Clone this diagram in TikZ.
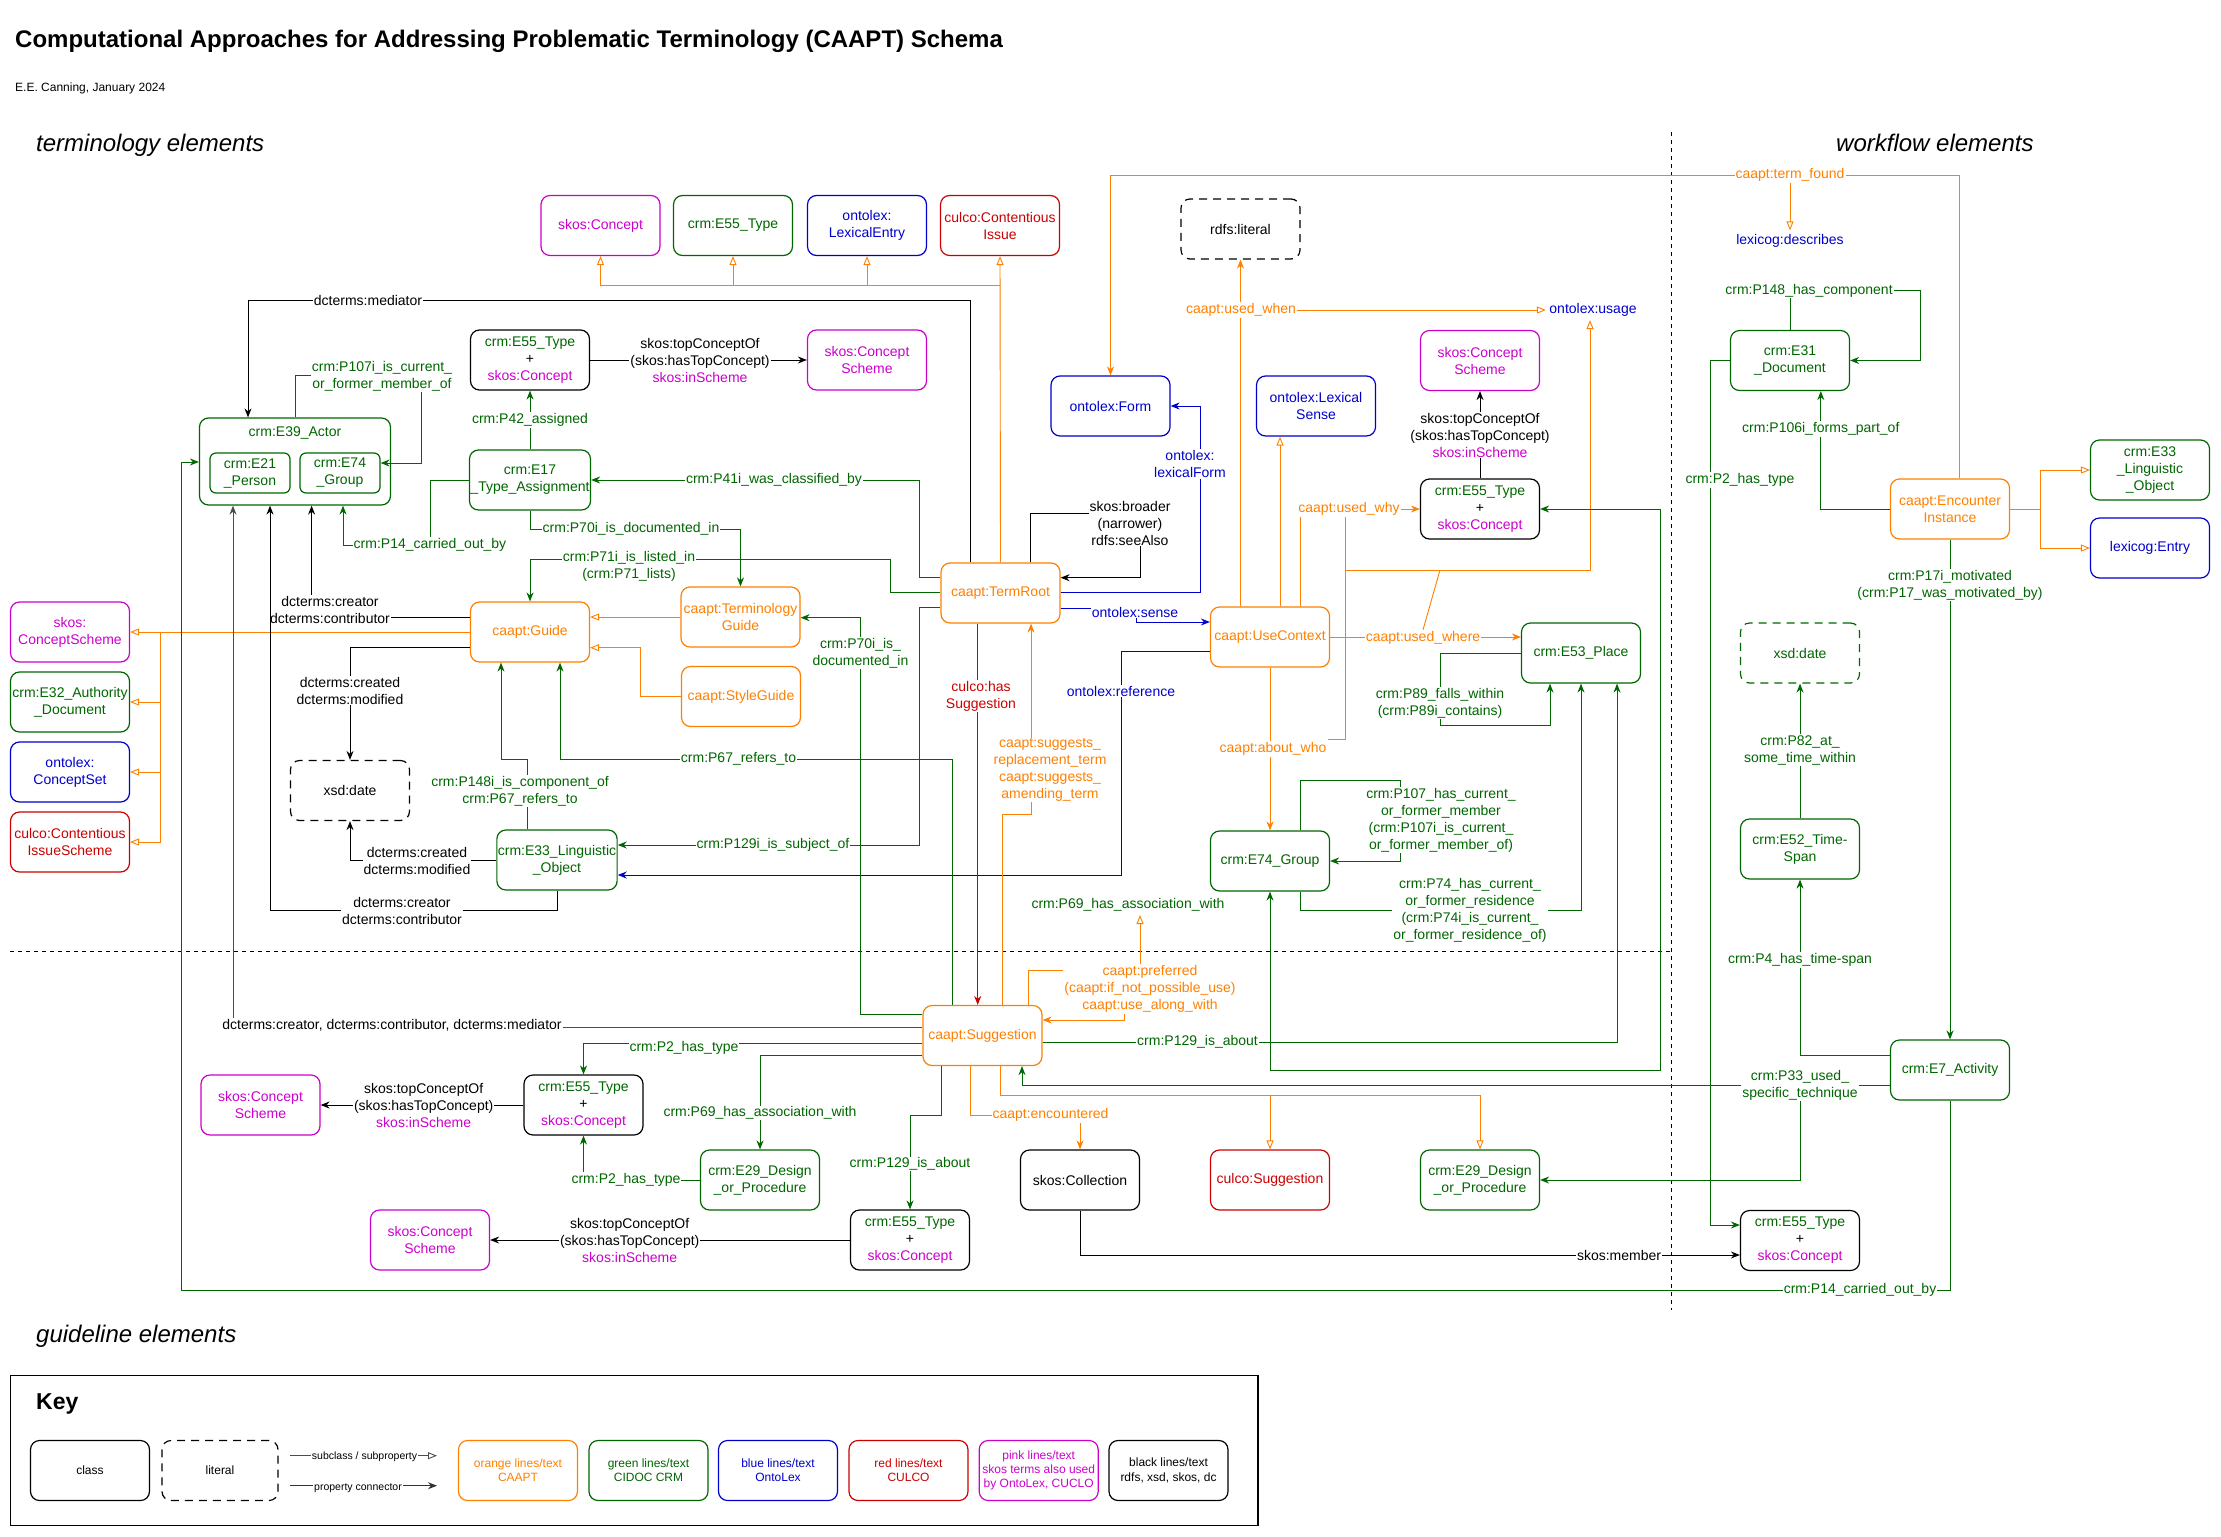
\documentclass[tikz,border=0pt]{standalone}
\usepackage{fontspec}
\setmainfont{Liberation Sans}
\usetikzlibrary{arrows.meta}
\definecolor{caorange}{HTML}{FF8000}
\definecolor{crmgreen}{HTML}{006600}
\definecolor{olblue}{HTML}{0000CC}
\definecolor{cured}{HTML}{CC0000}
\definecolor{skpink}{HTML}{CC00CC}
\tikzset{
  cls/.style={draw,rounded corners=9pt,line width=1.2pt,minimum width=119pt,minimum height=60pt,inner sep=1pt,align=center,fill=white},
  obox/.style={cls,draw=caorange,text=caorange},
  gbox/.style={cls,draw=crmgreen,text=crmgreen},
  bbox/.style={cls,draw=olblue,text=olblue},
  rbox/.style={cls,draw=cured,text=cured},
  pbox/.style={cls,draw=skpink,text=skpink},
  kbox/.style={cls,draw=black,text=black},
  litbox/.style={dash pattern=on 8pt off 6pt},
  prop/.style={line width=1pt,-{Stealth[length=9pt,width=7pt]}},
  gprop/.style={prop,draw=crmgreen},
  oprop/.style={prop,draw=caorange},
  bprop/.style={prop,draw=olblue},
  rprop/.style={prop,draw=cured},
  kprop/.style={prop,draw=black},
  gboth/.style={gprop,{Stealth[length=9pt,width=7pt]}-{Stealth[length=9pt,width=7pt]}},
  subarrow/.style={line width=0.9pt,-{Triangle[open,length=9pt,width=7pt]}},
  osub/.style={subarrow,draw=caorange},
  oline/.style={line width=0.9pt,draw=caorange},
  lbl/.style={fill=white,inner sep=1pt,align=center},
  glbl/.style={lbl,text=crmgreen},
  olbl/.style={lbl,text=caorange},
  blbl/.style={lbl,text=olblue},
  rlbl/.style={lbl,text=cured},
  klbl/.style={lbl,text=black},
  divider/.style={line width=1pt,dash pattern=on 4pt off 4pt},
  keyfont/.style={font=\fontsize{12}{14.3}\selectfont}
}
\newcommand*\typeconcept[2]{\node[kbox] (#1) at (#2) {\textcolor{crmgreen}{crm:E55\_Type}\\+\\\textcolor{skpink}{skos:Concept}};}
\newcommand*\topconcept[2]{\node[klbl] (#1) at (#2) {skos:topConceptOf\\(skos:hasTopConcept)\\\textcolor{skpink}{skos:inScheme}};}

\begin{document}
\begin{tikzpicture}[x=1pt,y=-1pt,font=\fontsize{14}{17}\selectfont]
\useasboundingbox (0,0) rectangle (2221,1536);

% headings
\node[anchor=base west,inner sep=0pt,font=\fontsize{24}{28}\selectfont\bfseries] (title) at (15,48) {Computational Approaches for Addressing Problematic Terminology (CAAPT) Schema};
\node[anchor=west,inner sep=0pt,font=\fontsize{12}{14}\selectfont] (author) at (15,88) {E.E. Canning, January 2024};
\node[anchor=west,inner sep=0pt,font=\fontsize{24}{28}\selectfont\itshape] (termhead) at (36,145) {terminology elements};
\node[anchor=west,inner sep=0pt,font=\fontsize{24}{28}\selectfont\itshape] (workhead) at (1836,143) {workflow elements};
\node[anchor=west,inner sep=0pt,font=\fontsize{24}{28}\selectfont\itshape] (guidehead) at (36,1336) {guideline elements};

\draw[divider] (1671,132) -- (1671,1310);
\draw[divider] (10,951) -- (1671,951);

% terminology classes
\node[pbox] (skosconcept) at (600.5,225.5) {skos:Concept};
\node[gbox] (e55super) at (733,225.5) {crm:E55\_Type};
\node[bbox] (lexentry) at (867,225.5) {ontolex:\\LexicalEntry};
\node[rbox] (contissue) at (1000,225.5) {culco:Contentious\\Issue};

\typeconcept{e55assign}{530,360}
\node[pbox] (schemeA) at (867,360) {skos:Concept\\Scheme};
\node[gbox] (e17) at (530,480) {crm:E17\\\_Type\_Assignment};

\node[gbox,minimum width=191pt,minimum height=87pt] (actor) at (295,461.5) {};
\node[text=crmgreen] (actorname) at (295,433) {crm:E39\_Actor};
\node[gbox,minimum width=80pt,minimum height=40pt,rounded corners=6pt] (person) at (250,473) {crm:E21\\\_Person};
\node[gbox,minimum width=80pt,minimum height=40pt,rounded corners=6pt] (actgroup) at (340,473) {crm:E74\\\_Group};

\node[obox] (guide) at (530,632) {caapt:Guide};
\node[obox] (termguide) at (740.5,617) {caapt:Terminology\\Guide};
\node[obox] (styleguide) at (741,696.5) {caapt:StyleGuide};
\node[obox] (termroot) at (1000.5,593) {caapt:TermRoot};
\node[bbox] (form) at (1110.5,406) {ontolex:Form};
\node[kbox,litbox] (literal) at (1240.5,229) {rdfs:literal};
\node[bbox] (lexsense) at (1316,406) {ontolex:Lexical\\Sense};
\node[pbox] (schemeB) at (1480,360.5) {skos:Concept\\Scheme};
\typeconcept{e55why}{1480,509}
\node[obox] (usecontext) at (1270,637) {caapt:UseContext};
\node[gbox] (place) at (1581,653) {crm:E53\_Place};
\node[gbox] (groupwho) at (1270,861) {crm:E74\_Group};
\node[gbox] (lingobj) at (557,860) {crm:E33\_Linguistic\\\_Object};
\node[kbox,litbox] (dateguide) at (350,790.5) {xsd:date};
\node[text=olblue] (describes) at (1790,240.5) {lexicog:describes};
\node[text=olblue] (usage) at (1593,310) {ontolex:usage};

\foreach \n/\y/\s/\t in {cscheme/632/pbox/{skos:\\ConceptScheme}, authdoc/702/gbox/{crm:E32\_Authority\\\_Document}, conceptset/772/bbox/{ontolex:\\ConceptSet}, issuescheme/842/rbox/{culco:Contentious\\IssueScheme}}
  \node[\s] (\n) at (70,\y) {\t};

% guideline classes
\node[obox] (suggestion) at (982.5,1035.5) {caapt:Suggestion};
\typeconcept{e55sugg}{583.5,1105}
\node[pbox] (schemeC) at (260.5,1105) {skos:Concept\\Scheme};
\node[gbox] (designsugg) at (760,1180) {crm:E29\_Design\\\_or\_Procedure};
\typeconcept{e55about}{910,1240}
\node[pbox] (schemeD) at (430,1240) {skos:Concept\\Scheme};
\node[kbox] (collection) at (1080,1180) {skos:Collection};
\node[rbox] (culcosugg) at (1270,1180) {culco:Suggestion};
\node[gbox] (design) at (1480,1180) {crm:E29\_Design\\\_or\_Procedure};
\typeconcept{e55member}{1800,1240.5}

% workflow classes
\node[gbox] (document) at (1790,360.5) {crm:E31\\\_Document};
\node[obox] (encounter) at (1950,509) {caapt:Encounter\\Instance};
\node[gbox] (lingobjR) at (2150,470) {crm:E33\\\_Linguistic\\\_Object};
\node[bbox] (entry) at (2150,548) {lexicog:Entry};
\node[gbox,litbox] (datetime) at (1800,653) {xsd:date};
\node[gbox] (timespan) at (1800,849) {crm:E52\_Time-\\Span};
\node[gbox] (activity) at (1950,1070) {crm:E7\_Activity};

% TermRoot
\draw[osub] (termroot.north) -- (contissue.south);
\coordinate (topbus) at (1000,285);
\foreach \n in {skosconcept,e55super,lexentry} \draw[osub] (topbus) -| (\n.south);

\draw[kprop] (970,0 |- termroot.north) |- (248,300) -- (248,0 |- actor.north);
\node[klbl] (l-mediator) at (368,300) {dcterms:mediator};

\draw[kprop] (e55assign) -- (schemeA);
\topconcept{l-scheme1}{700,360}

\draw[gprop] (e17) -- (e55assign);
\node[glbl] (l-p42) at (530,420) {crm:P42\_assigned};

\draw[gprop] (termroot.west |- 0,577.7) -| (919,480) -- (e17.east);
\node[glbl] (l-p41) at (774,480) {crm:P41i\_was\_classified\_by};

\draw[gprop] (e17.south) |- (740.5,529) -- (termguide.north);
\node[glbl] (l-p70) at (631,529) {crm:P70i\_is\_documented\_in};

\draw[gprop] (termroot.west |- 0,592.7) -| (890,559) -| (guide.north);
\node[glbl] (l-p71) at (629,566) {crm:P71i\_is\_listed\_in\\(crm:P71\_lists)};

\draw[gprop] (termroot.west |- 0,607.7) -| (919,845) -- (lingobj.east |- 0,845);
\node[glbl] (l-p129i) at (773,845) {crm:P129i\_is\_subject\_of};

\draw[bprop] (usecontext.west |- 0,651) -| (1121,875) -- (lingobj.east |- 0,875);
\node[blbl] (l-reference) at (1121,691) {ontolex:reference};

\draw[bprop] (termroot.east |- 0,608) -- (1136,608) |- (usecontext.west |- 0,622);
\node[blbl] (l-sense) at (1135,612) {ontolex:sense};

\draw[bprop] (termroot.east |- 0,592.7) -| (1200,406) -- (form.east);
\node[blbl] (l-lexform) at (1190,464) {ontolex:\\lexicalForm};

\draw[kprop] (termroot.north -| 1030.6,0) |- (1140,513) -- (1140,577.7) -- (termroot.east |- 0,577.7);
\node[klbl] (l-broader) at (1130,523) {skos:broader\\(narrower)\\rdfs:seeAlso};

\draw[oprop] (encounter.north -| 1959,0) |- (form.north |- 0,175) -- (form.north);
\node[olbl] (l-termfound) at (1790,175) {caapt:term\_found};
\draw[osub] (l-termfound.south) -- (describes.north);

% UseContext
\draw[oprop] (literal.south |- usecontext.north) -- (literal.south);
\node[olbl] (l-usedwhen) at (1241,310) {caapt:used\_when};
\draw[osub] (l-usedwhen.east) -- (usage.west);

\draw[osub] (usecontext.north -| 1280,0) -- (lexsense.south -| 1280,0);

\draw[oprop] (usecontext.north -| 1300,0) |- (e55why.west);
\node[olbl] (l-usedwhy) at (1349,509) {caapt:used\_why};

\draw[kprop] (e55why) -- (schemeB);
\topconcept{l-scheme2}{1480,435}

\draw[oprop] (usecontext) -- (groupwho);
\node[olbl] (l-aboutwho) at (1273,749) {caapt:about\_who};

\draw[oprop] (usecontext.east) -- (place.west |- usecontext.east);
\node[olbl] (l-usedwhere) at (1423,637.5) {caapt:used\_where};

\draw[oline] (l-usedwhy.south -| 1345,0) -- (1345,739) -- (l-aboutwho.east |- 0,739);
\draw[osub] (1345,570) -| (usage.south -| 1590,0);
\draw[oline] (1440,570) -- (l-usedwhere.north);

\draw[gprop] (place.west) -| (1440,725) -| (place.south -| 1550,0);
\node[glbl] (l-p89) at (1440,703) {crm:P89\_falls\_within\\(crm:P89i\_contains)};

\draw[gprop] (groupwho.north -| 1300,0) |- (1400,780) |- (groupwho.east);
\node[glbl] (l-p107) at (1441,820) {crm:P107\_has\_current\_\\or\_former\_member\\(crm:P107i\_is\_current\_\\or\_former\_member\_of)};

\draw[gprop] (groupwho.south -| 1300,0) |- (1581,910) -- (place.south);
\node[glbl] (l-p74) at (1470,910) {crm:P74\_has\_current\_\\or\_former\_residence\\(crm:P74i\_is\_current\_\\or\_former\_residence\_of)};

% Guide
\draw[osub] (termguide.west) -- (guide.east |- termguide.west);
\draw[osub] (styleguide.west) -| (640.6,647.7) -- (guide.east |- 0,647.7);
\draw[oline] (guide.west) -- (160.7,632);
\foreach \n in {cscheme,authdoc,conceptset,issuescheme} \draw[osub] (160.7,632) |- (\n.east);

\draw[kprop] (guide.west |- 0,617) -| (actor.south -| 311.6,0);
\node[klbl] (l-dcguide) at (330,609.5) {dcterms:creator\\dcterms:contributor};

\draw[kprop] (guide.west |- 0,647) -| (dateguide.north);
\node[klbl] (l-dcdate) at (350,690.5) {dcterms:created\\dcterms:modified};

\draw[kprop] (lingobj.west) -| (dateguide.south);
\node[klbl] (l-dcdate2) at (417,860.7) {dcterms:created\\dcterms:modified};

\draw[kprop] (lingobj.south) |- (270,910) -- (actor.south -| 270,0);
\node[klbl] (l-dcling) at (402,910.7) {dcterms:creator\\dcterms:contributor};

\draw[gprop] (lingobj.north -| 527.7,0) |- (501,759) -- (guide.south -| 501,0);
\node[glbl] (l-p148i) at (520,791) {crm:P148i\_is\_component\_of\\crm:P67\_refers\_to};

\draw[gprop] (actor.north -| 295,0) |- (421,375) |- (actgroup.east |- 0,463);
\node[glbl] (l-p107i) at (382,376) {crm:P107i\_is\_current\_\\or\_former\_member\_of};

\draw[gprop] (e17.west) -| (430,545) -| (actor.south -| 343,0);
\node[glbl] (l-p14) at (430,545) {crm:P14\_carried\_out\_by};

% Suggestion
\draw[rprop] (termroot.south -| 977.7,0) -- (suggestion.north -| 977.7,0);
\node[rlbl] (l-hassugg) at (981,696) {culco:has\\Suggestion};

\draw[oprop] (suggestion.north -| 1002.6,0) |- (1031,814) -- (termroot.south -| 1031,0);
\node[olbl] (l-suggests) at (1050,770) {caapt:suggests\_\\replacement\_term\\caapt:suggests\_\\amending\_term};

\draw[oprop] (suggestion.north -| 1028.6,0) |- (1124.5,970.7) -- (1124.5,1020) -- (suggestion.east |- 0,1020);
\node[olbl] (l-preferred) at (1150,989) {caapt:preferred\\(caapt:if\_not\_possible\_use)\\caapt:use\_along\_with};
\node[text=crmgreen] (l-p69assoc) at (1128,905) {crm:P69\_has\_association\_with};
\draw[osub] (l-preferred.north -| 1140,0) -- (l-p69assoc.south -| 1140,0);

\draw[gprop] (suggestion.north -| 952,0) |- (560,759) -- (guide.south -| 560,0);
\node[glbl] (l-p67) at (738.5,759) {crm:P67\_refers\_to};

\draw[gprop] (suggestion.west |- 0,1014) -| (860.5,617.7) -- (termguide.east |- 0,617.7);
\node[glbl] (l-p70b) at (860.5,653) {crm:P70i\_is\_\\documented\_in};

\draw[kprop,draw=black!70] (suggestion.west |- 0,1027.7) -| (actor.south -| 233,0);
\node[klbl] (l-dcsugg) at (392,1025) {dcterms:creator, dcterms:contributor, dcterms:mediator};

\draw[gprop] (suggestion.west |- 0,1043.7) -| (e55sugg.north);
\node[glbl] (l-p2a) at (684,1048) {crm:P2\_has\_type};

\draw[gprop] (suggestion.west |- 0,1055) -| (designsugg.north);
\node[glbl] (l-p69) at (760,1113) {crm:P69\_has\_association\_with};

\draw[gprop] (designsugg.west) -| (e55sugg.south);
\node[glbl] (l-p2b) at (626,1180) {crm:P2\_has\_type};

\draw[kprop] (e55sugg.west) -- (schemeC.east);
\topconcept{l-scheme3}{423.7,1105}
\draw[kprop] (e55about.west) -- (schemeD.east);
\topconcept{l-scheme4}{629.7,1240}

\draw[gprop] (suggestion.south -| 941,0) |- (910,1115) -- (e55about.north);
\node[glbl] (l-p129b) at (910,1164) {crm:P129\_is\_about};

\draw[oprop] (suggestion.south -| 970,0) |- (1080,1115) -- (collection.north);
\node[olbl] (l-encountered) at (1050.5,1115) {caapt:encountered};

\coordinate (suggbus) at (1270,1095);
\draw[osub] (suggestion.south -| 1000.5,0) |- (1480,1095) -- (design.north);
\draw[osub] (suggbus) -- (culcosugg.north);

\draw[kprop] (collection.south) |- (e55member.west |- 0,1255);
\node[klbl] (l-member) at (1619,1255) {skos:member};

\draw[gprop] (suggestion.east |- 0,1042) -| (place.south -| 1617,0);
\node[glbl] (l-p129c) at (1197.5,1042) {crm:P129\_is\_about};

\draw[gboth] (groupwho.south) |- (1660,1070) |- (e55why.east);

% workflow
\draw[gprop] (activity.west |- 0,1085) -| (suggestion.south -| 1022,0);
\node[glbl] (l-p33) at (1800,1085) {crm:P33\_used\_\\specific\_technique};
\draw[gprop] (l-p33.south) |- (design.east);

\draw[gprop] (activity.south) |- (181,1290) |- (actor.west |- 0,462);
\node[glbl] (l-p14b) at (1860,1290) {crm:P14\_carried\_out\_by};

\draw[gprop] (activity.west |- 0,1055) -| (timespan.south);
\node[glbl] (l-p4) at (1800,960) {crm:P4\_has\_time-span};

\draw[gprop] (timespan) -- (datetime);
\node[glbl] (l-p82) at (1800,750) {crm:P82\_at\_\\some\_time\_within};

\draw[gprop] (encounter) -- (activity);
\node[glbl] (l-p17) at (1950,585) {crm:P17i\_motivated\\(crm:P17\_was\_motivated\_by)};

\draw[gprop] (encounter.west) -| (document.south -| 1820.8,0);
\node[glbl] (l-p106) at (1820.8,429) {crm:P106i\_forms\_part\_of};

\draw[gprop] (document.north) |- (1920.5,290.5) |- (document.east);
\node[glbl] (l-p148) at (1809,290.5) {crm:P148\_has\_component};

\draw[gprop] (document.west) -| (1710,1225) -- (e55member.west |- 0,1225);
\node[glbl] (l-p2c) at (1740,480) {crm:P2\_has\_type};

\draw[osub] (encounter.east) -- (2040,509) |- (lingobjR.west);
\draw[osub] (2040,509) |- (entry.west);

% key
\node[draw,line width=1.2pt,minimum width=1247.5pt,minimum height=149.5pt,inner sep=0pt] (keyframe) at (634.25,1450.4) {};
\node[anchor=west,inner sep=0pt,font=\fontsize{23}{27}\selectfont\bfseries] (keytitle) at (36,1404) {Key};
\node[kbox,keyfont] (k-class) at (90,1470.5) {class};
\node[kbox,litbox,keyfont,minimum width=116pt] (k-literal) at (220,1470.5) {literal};
\coordinate (k-suba) at (290,1455.7);
\coordinate (k-subb) at (437,1455.7);
\coordinate (k-propa) at (290,1485.7);
\coordinate (k-propb) at (437,1485.7);
\draw[subarrow,draw=black!70] (k-suba) -- (k-subb);
\node[klbl,font=\fontsize{10.5}{12}\selectfont] (k-sublbl) at (364.5,1457) {subclass / subproperty};
\draw[kprop,draw=black!80] (k-propa) -- (k-propb);
\node[klbl,font=\fontsize{10.5}{12}\selectfont] (k-proplbl) at (358,1488) {property connector};
\foreach \n/\x/\s/\t in {k-orange/518/obox/{orange lines/text\\CAAPT}, k-green/648.5/gbox/{green lines/text\\CIDOC CRM}, k-blue/778/bbox/{blue lines/text\\OntoLex}, k-red/908.5/rbox/{red lines/text\\CULCO}, k-pink/1038.7/pbox/{pink lines/text\\skos terms also used\\by OntoLex, CUCLO}, k-black/1168.5/kbox/{black lines/text\\rdfs, xsd, skos, dc}}
  \node[\s,keyfont] (\n) at (\x,1470.5) {\t};

\end{tikzpicture}
\end{document}
